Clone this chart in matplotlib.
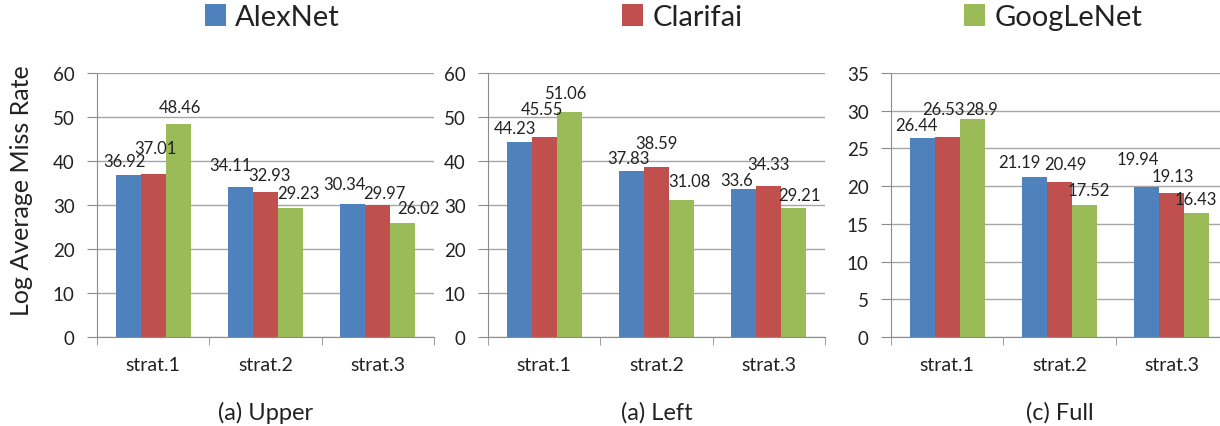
import numpy as np
import matplotlib
matplotlib.use("Agg")
import matplotlib.pyplot as plt
from matplotlib.patches import Patch

plt.rcParams['font.family'] = ['Lato', 'DejaVu Sans']

# ===== data =====
categories = ["strat.1", "strat.2", "strat.3"]
models = ["AlexNet", "Clarifai", "GoogLeNet"]
colors = ["#4f81bd", "#c0504d", "#9bbb59"]

upper = [[36.92, 34.11, 30.34],   # AlexNet
         [37.01, 32.93, 29.97],   # Clarifai
         [48.46, 29.23, 26.02]]   # GoogLeNet
left = [[44.23, 37.83, 33.6],
        [45.55, 38.59, 34.33],
        [51.06, 31.08, 29.21]]
full = [[26.44, 21.19, 19.94],
        [26.53, 20.49, 19.13],
        [28.9, 17.52, 16.43]]

panel_titles = ["(a) Upper", "(a) Left", "(c) Full"]
ylims = [60, 60, 35]
ysteps = [10, 10, 5]

# label nudges in pixels (dx, dy above bar top), Excel-like placement
nudges = [
    [[(-4, 6), (-10, 14), (-8, 12)],
     [(2, 18), (4, 9), (7, 4)],
     [(2, 9), (8, 7), (16, 7)]],
    [[(-4, 6), (-3, 5), (-7, 1)],
     [(-2, 20), (0, 16), (0, 14)],
     [(-4, 11), (8, 11), (6, 5)]],
    [[(-6, 5), (-15, 7), (-9, 20)],
     [(-4, 20), (6, 10), (1, 9)],
     [(9, 2), (4, 7), (-1, 6)]],
]

W, H = 1220, 427
fig = plt.figure(figsize=(W / 100, H / 100), dpi=100)

lefts = [97, 488, 891]
ax_w, ax_top, ax_bot = 337, 74, 338
bw = 25 / (ax_w / 3)
x = np.arange(len(categories))
txt = "#222222"
grid_c = "#a6a6a6"
axis_c = "#8c8c8c"

for p, data in enumerate([upper, left, full]):
    ax = fig.add_axes([lefts[p] / W, (H - ax_bot) / H, ax_w / W, (ax_bot - ax_top) / H])
    for s in range(3):
        xs = x + (s - 1) * bw
        ax.bar(xs, data[s], width=bw, color=colors[s], zorder=3)
        for i, v in enumerate(data[s]):
            dx, dy = nudges[p][s][i]
            ax.annotate(f"{v:g}", (xs[i], v), xytext=(dx * 0.72, dy * 0.72),
                        textcoords="offset points", ha="center", va="bottom",
                        fontsize=12, color=txt, zorder=4)
    ax.set_xlim(-0.5, 2.5)
    ax.set_ylim(0, ylims[p])
    ax.set_yticks(np.arange(0, ylims[p] + 1, ysteps[p]))
    ax.set_xticks(x)
    ax.set_xticklabels(categories)
    ax.set_xticks([-0.5, 0.5, 1.5, 2.5], minor=True)
    ax.tick_params(axis="x", which="major", length=0, pad=14, labelsize=14, labelcolor=txt)
    ax.tick_params(axis="x", which="minor", length=6, color=axis_c, direction="out")
    ax.tick_params(axis="y", length=7, color=axis_c, pad=9, labelsize=13.5, labelcolor=txt)
    ax.grid(axis="y", color=grid_c, linewidth=1, zorder=0)
    for sp in ["top", "right"]:
        ax.spines[sp].set_visible(False)
    for sp in ["left", "bottom"]:
        ax.spines[sp].set_color(axis_c)
        ax.spines[sp].set_zorder(5)
    cx = (lefts[p] + ax_w / 2) / W
    fig.text(cx, 1 - 413 / H, panel_titles[p], ha="center", va="center",
             fontsize=17, color=txt)

fig.text(22 / W, 1 - 191 / H, "Log Average Miss Rate", rotation=90,
         ha="center", va="center", fontsize=18, color=txt)

# legend: one entry above each panel
leg_x = [190, 607, 949]
for s in range(3):
    fig.legend(handles=[Patch(facecolor=colors[s], edgecolor="none")], labels=[models[s]],
               loc="center left", bbox_to_anchor=(leg_x[s] / W, 1 - 18 / H),
               frameon=False, fontsize=21, handlelength=0.75, handleheight=0.75,
               handletextpad=0.3, borderpad=0, labelcolor=txt)

fig.savefig("out.png", dpi=100)
